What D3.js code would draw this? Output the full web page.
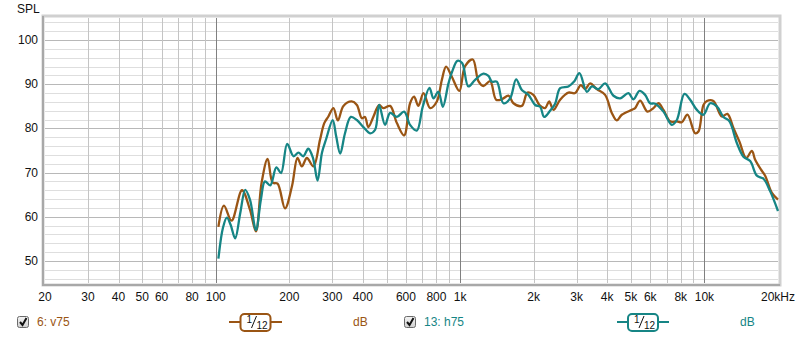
<!DOCTYPE html>
<html>
<head>
<meta charset="utf-8">
<script src="https://cdn.jsdelivr.net/npm/d3@7"></script>
<style>
  body { margin: 0; background: #fff; }
  svg { display: block; font-family: "Liberation Sans", Arial, sans-serif; }
</style>
</head>
<body>
<svg id="chart"></svg>
<script>
// tick labels
const xTicks = [20, 30, 40, 50, 60, 80, 100, 200, 300, 400, 600, 800, 1000, 2000, 3000, 4000, 5000, 6000, 8000, 10000, 20000];
const xTickLabels = ['20', '30', '40', '50', '60', '80', '100', '200', '300', '400', '600', '800', '1k', '2k', '3k', '4k', '5k', '6k', '8k', '10k', '20kHz'];
const yTicks = [50, 60, 70, 80, 90, 100];

// 6: v75 (brown)
const v75Freq = [102.5, 108, 116, 128, 138, 146, 154, 163, 171, 179, 192, 205, 216, 225, 236, 251, 267, 278, 289, 303,
  316, 333, 360, 378, 396, 408, 421, 442, 466, 485, 517, 551, 590, 624, 648, 675, 708, 754, 803, 842,
  876, 925, 993, 1048, 1127, 1188, 1246, 1327, 1404, 1481, 1577, 1653, 1789, 1886, 1995, 2112, 2228, 2314, 2410, 2567,
  2775, 2956, 3119, 3249, 3405, 3627, 3922, 4177, 4378, 4590, 5045, 5204, 5456, 5844, 6183, 6481, 6795, 7236, 7709, 8081,
  8519, 9159, 9450, 9906, 10230, 10880, 11780, 12420, 13140, 13910, 14820, 15630, 16130, 17020, 17720, 18880, 20000];
const v75Spl = [57.7, 62.5, 59.1, 66.0, 61.6, 56.7, 67.7, 73.1, 67.7, 67.5, 61.9, 66.9, 73.3, 71.4, 73.3, 71.4, 77.4, 81.2, 82.7, 84.6,
  81.8, 85.1, 86.1, 85.3, 82.3, 82.6, 80.3, 82.7, 85.3, 84.6, 85.1, 81.2, 78.4, 85.7, 87.2, 85.1, 88.0, 84.6, 86.1, 91.0,
  94.0, 91.7, 88.5, 94.1, 95.6, 90.7, 89.6, 90.7, 86.5, 86.6, 87.4, 85.7, 85.1, 88.1, 87.6, 85.3, 84.6, 86.1, 84.2, 86.5,
  88.1, 88.0, 89.8, 88.9, 90.2, 88.9, 87.6, 83.5, 81.8, 83.1, 84.2, 84.6, 86.3, 83.8, 84.6, 85.7, 84.2, 81.6, 81.6, 81.4,
  83.1, 78.9, 79.3, 85.3, 86.2, 86.2, 82.7, 83.3, 80.1, 77.0, 73.3, 74.9, 72.9, 70.7, 69.3, 65.4, 63.9];

// 13: h75 (teal)
const h75Freq = [102.5, 107, 111, 115, 120, 126, 132, 138, 146, 153, 159, 167, 177, 185, 196, 208, 218, 228, 239, 250,
  261, 272, 283, 301, 311, 323, 338, 357, 378, 402, 428, 449, 466, 493, 517, 551, 590, 624, 665, 703,
  749, 778, 815, 850, 896, 927, 975, 1019, 1081, 1152, 1246, 1306, 1348, 1413, 1504, 1602, 1695, 1789, 1904, 2028,
  2126, 2208, 2335, 2448, 2567, 2775, 2928, 3078, 3301, 3460, 3683, 3922, 4243, 4518, 4885, 5122, 5420, 5717, 5993, 6284,
  6795, 7356, 7709, 8281, 8740, 9309, 9906, 10550, 11240, 11960, 12660, 13570, 14440, 15390, 16390, 17440, 18570, 20000];
const h75Spl = [50.5, 57.5, 59.8, 58.2, 55.1, 60.9, 66.1, 63.9, 57.0, 63.9, 68.0, 67.1, 71.2, 69.9, 76.5, 73.7, 74.5, 73.7, 75.4, 73.3,
  68.2, 74.5, 77.6, 81.9, 78.2, 74.3, 78.9, 82.6, 81.9, 80.3, 78.9, 79.7, 85.3, 80.8, 83.5, 82.6, 83.8, 80.8, 79.5, 84.9,
  89.2, 86.8, 88.3, 84.9, 90.2, 92.8, 95.3, 94.8, 89.5, 91.0, 92.4, 91.9, 90.6, 90.6, 85.7, 86.8, 91.1, 88.7, 87.6, 85.3,
  84.9, 82.6, 84.0, 85.6, 89.1, 89.5, 90.6, 92.5, 88.3, 89.5, 88.9, 90.2, 87.4, 86.8, 88.0, 86.6, 88.5, 87.6, 85.7, 85.6,
  83.8, 80.8, 81.9, 87.8, 86.5, 84.2, 83.1, 85.7, 85.0, 82.6, 81.6, 76.7, 73.6, 72.6, 69.3, 68.6, 65.8, 61.3];

const brown = '#9a5514';
const teal = '#168585';

function drawChart () {

  const w = 800;
  const h = 337;

  const svg = d3.select('#chart')
  .attr('width', w)
  .attr('height', h);

  const defs = svg.append('defs');
  const grad = defs.append('linearGradient')
  .attr('id', 'cbGrad')
  .attr('x1', 0).attr('y1', 0).attr('x2', 0).attr('y2', 1);
  grad.append('stop').attr('offset', '0%').attr('stop-color', '#f4f4f4');
  grad.append('stop').attr('offset', '100%').attr('stop-color', '#cfcfcf');

  const xScale = d3.scaleLog()
  .domain([20, 20000])
  .range([45, 778]);

  const yScale = d3.scaleLinear()
  .domain([45, 105])
  .range([283, 18]);

  const x0 = xScale.range()[0], x1 = xScale.range()[1];
  const y0 = yScale.range()[1], y1 = yScale.range()[0];

  // frame
  svg.append('rect')
  .attr('x', x0 - 2).attr('y', y0 - 2)
  .attr('width', x1 - x0 + 4).attr('height', y1 - y0 + 4)
  .attr('fill', '#fff')
  .attr('stroke', '#d0d0d0')
  .attr('stroke-width', 3);

  const grid = svg.append('g');

  // horizontal grid, every 2 dB
  const hLines = d3.range(46, 105, 2);
  grid.selectAll('line.h')
  .data(hLines)
  .enter()
  .append('line')
  .attr('x1', x0).attr('x2', x1)
  .attr('y1', d => Math.round(yScale(d)) + 0.5)
  .attr('y2', d => Math.round(yScale(d)) + 0.5)
  .attr('stroke', d => d % 10 === 0 ? '#b8b8b8' : '#dedede')
  .attr('stroke-width', 1);

  // vertical grid
  const vLines = [];
  [10, 100, 1000, 10000].forEach(dec => {
    for (let k = 1; k <= 9; k++) {
      const f = dec * k;
      if (f > 20 && f < 20000) vLines.push(f);
    }
  });
  grid.selectAll('line.v')
  .data(vLines)
  .enter()
  .append('line')
  .attr('y1', y0).attr('y2', y1)
  .attr('x1', d => Math.round(xScale(d)) + 0.5)
  .attr('x2', d => Math.round(xScale(d)) + 0.5)
  .attr('stroke', d => [100, 1000, 10000].includes(d) ? '#808080' : '#c4c4c4')
  .attr('stroke-width', 1);

  // left/bottom shadow of the frame
  svg.append('path')
  .attr('d', `M${x0 - 2},${y0 - 2}V${y1 + 2}H${x1 + 2}`)
  .attr('fill', 'none')
  .attr('stroke', '#a8a8a8')
  .attr('stroke-width', 2);

  // curves
  const line = d3.line()
  .x(d => xScale(d[0]))
  .y(d => yScale(d[1]))
  .curve(d3.curveCatmullRom.alpha(0.5));

  const plot = svg.append('g');
  plot.append('path')
  .datum(v75Freq.map((f, i) => [f, v75Spl[i]]))
  .attr('d', line)
  .attr('fill', 'none')
  .attr('stroke', brown)
  .attr('stroke-width', 2.3)
  .attr('stroke-linejoin', 'round');

  plot.append('path')
  .datum(h75Freq.map((f, i) => [f, h75Spl[i]]))
  .attr('d', line)
  .attr('fill', 'none')
  .attr('stroke', teal)
  .attr('stroke-width', 2.3)
  .attr('stroke-linejoin', 'round');

  // axis labels
  svg.selectAll('text.xt')
  .data(xTicks)
  .enter()
  .append('text')
  .attr('x', d => xScale(d))
  .attr('y', 301)
  .attr('text-anchor', 'middle')
  .attr('font-size', 12)
  .attr('fill', '#111')
  .text((d, i) => xTickLabels[i]);

  svg.selectAll('text.yt')
  .data(yTicks)
  .enter()
  .append('text')
  .attr('x', 38)
  .attr('y', d => yScale(d) + 4)
  .attr('text-anchor', 'end')
  .attr('font-size', 12)
  .attr('fill', '#111')
  .text(d => d);

  svg.append('text')
  .attr('x', 17).attr('y', 13)
  .attr('font-size', 12)
  .attr('fill', '#111')
  .text('SPL');

  // legend
  drawLegend(svg, 17, '6: v75', brown, 229, 282, 353);
  drawLegend(svg, 404, '13: h75', teal, 617, 669, 740);
}

function drawLegend (svg, cx, name, color, lx0, lx1, dbx) {
  const g = svg.append('g');
  const cy = 322;

  // checkbox
  g.append('rect')
  .attr('x', cx + 0.5).attr('y', cy - 5.5)
  .attr('width', 11).attr('height', 11)
  .attr('rx', 2)
  .attr('fill', 'url(#cbGrad)')
  .attr('stroke', '#6a6a6a');
  g.append('path')
  .attr('d', `M${cx + 3},${cy} L${cx + 5.5},${cy + 3} L${cx + 9.5},${cy - 4}`)
  .attr('fill', 'none')
  .attr('stroke', '#111')
  .attr('stroke-width', 2);

  g.append('text')
  .attr('x', cx + 20).attr('y', cy + 4)
  .attr('font-size', 12)
  .attr('fill', color)
  .text(name);

  // smoothing widget
  const mid = (lx0 + lx1) / 2;
  g.append('line')
  .attr('x1', lx0).attr('x2', lx1)
  .attr('y1', cy).attr('y2', cy)
  .attr('stroke', color)
  .attr('stroke-width', 2);
  g.append('rect')
  .attr('x', mid - 15).attr('y', cy - 8)
  .attr('width', 30).attr('height', 17)
  .attr('rx', 4)
  .attr('fill', '#fff')
  .attr('stroke', color)
  .attr('stroke-width', 2);
  g.append('text')
  .attr('x', mid - 9).attr('y', cy + 1)
  .attr('font-size', 10)
  .attr('fill', '#111')
  .text('1');
  g.append('line')
  .attr('x1', mid - 4).attr('y1', cy + 6)
  .attr('x2', mid + 1).attr('y2', cy - 6)
  .attr('stroke', '#111')
  .attr('stroke-width', 1);
  g.append('text')
  .attr('x', mid + 1).attr('y', cy + 7)
  .attr('font-size', 10)
  .attr('fill', '#111')
  .text('12');

  g.append('text')
  .attr('x', dbx).attr('y', cy + 4)
  .attr('font-size', 12)
  .attr('fill', color)
  .text('dB');
}

drawChart();
</script>
</body>
</html>
